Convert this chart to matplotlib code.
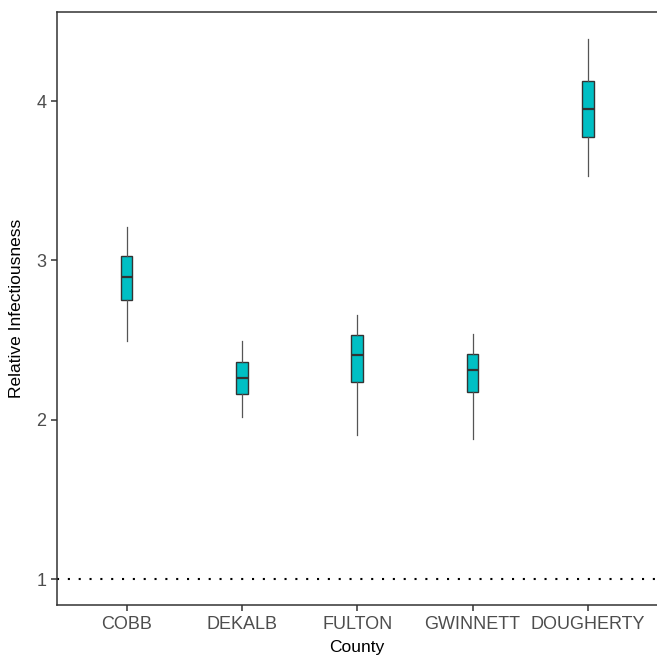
import matplotlib
matplotlib.use("Agg")
import matplotlib.pyplot as plt

plt.rcParams['font.family'] = ['Liberation Sans', 'DejaVu Sans']

# values (relative infectiousness by county)
counties = ["COBB", "DEKALB", "FULTON", "GWINNETT", "DOUGHERTY"]
whisker_low = [2.497, 2.015, 1.906, 1.881, 3.532]
q1 = [2.750, 2.161, 2.238, 2.174, 3.776]
median = [2.899, 2.263, 2.409, 2.315, 3.950]
q3 = [3.028, 2.362, 2.533, 2.412, 4.127]
whisker_high = [3.212, 2.497, 2.658, 2.539, 4.393]
ref_value = 1.0

stats = []
for i, name in enumerate(counties):
    stats.append({
        "label": name,
        "whislo": whisker_low[i],
        "q1": q1[i],
        "med": median[i],
        "q3": q3[i],
        "whishi": whisker_high[i],
        "fliers": [],
    })

fig = plt.figure(figsize=(6.57, 6.56), dpi=100)
ax = fig.add_axes([0.0875, 0.0777, 0.9125, 0.904])

positions = list(range(1, len(counties) + 1))
ax.bxp(stats, positions=positions, widths=0.1, patch_artist=True,
       showcaps=False, showfliers=False,
       boxprops=dict(facecolor="#00BFC4", edgecolor="#333333", linewidth=1.0),
       medianprops=dict(color="#333333", linewidth=1.6),
       whiskerprops=dict(color="#555555", linewidth=0.9))

ax.axhline(ref_value, color="black", linewidth=1.5, linestyle=(0, (1, 4.2)),
           dash_capstyle="butt")

ax.set_xlim(0.4, 5.6)
ax.set_ylim(0.837, 4.56)
ax.set_yticks([1, 2, 3, 4])
ax.set_xticks(positions)
ax.set_xticklabels(counties)

ax.spines["right"].set_visible(False)
for side in ["left", "bottom", "top"]:
    ax.spines[side].set_color("#333333")
    ax.spines[side].set_linewidth(1.1)

ax.tick_params(axis="both", colors="#333333", length=4, width=1.1,
               labelcolor="#4D4D4D", labelsize=13, pad=4)
ax.set_xlabel("County", fontsize=12.5, color="black", labelpad=5)
ax.set_ylabel("Relative Infectiousness", fontsize=12.5, color="black", labelpad=9)

fig.savefig("out.png", dpi=100)
